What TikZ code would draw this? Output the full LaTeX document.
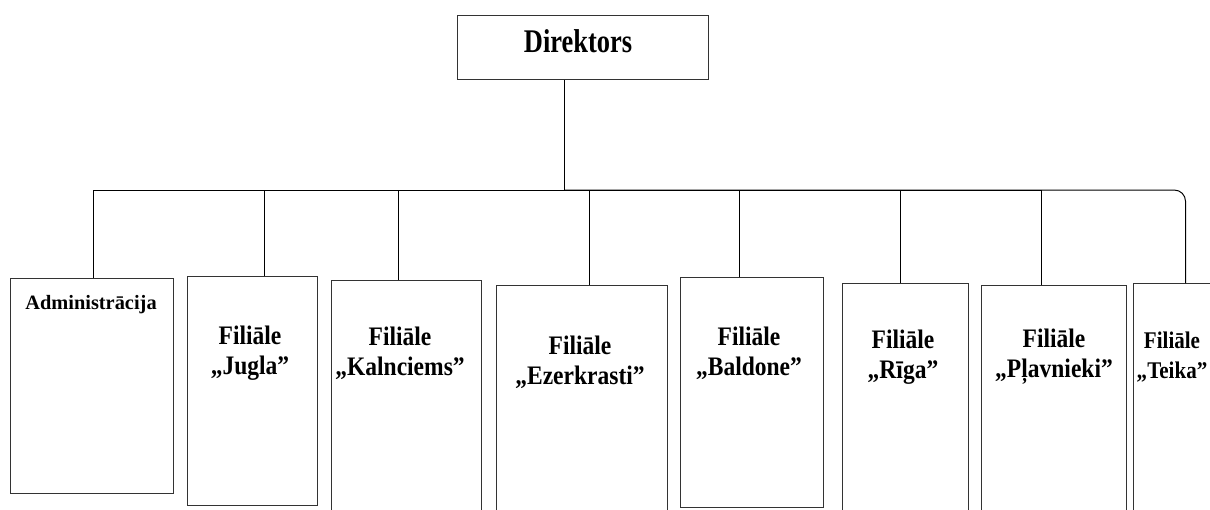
\documentclass[tikz,border=0pt]{standalone}
\usepackage{fontspec}
\setmainfont{Liberation Serif}
\newfontfamily\headfont{Liberation Serif}[FakeStretch=0.8]
\newfontfamily\narrowfont{Liberation Serif}[FakeStretch=0.88]
\usetikzlibrary{calc}
\tikzset{box/.style 2 args={draw=black!80, line width=0.7pt, anchor=north west, inner sep=0pt, minimum width=#1cm, minimum height=#2cm},
  lbl/.style={font=\narrowfont\bfseries\fontsize{19}{21.5}\selectfont, align=center, inner sep=0pt}}

\begin{document}
\begin{tikzpicture}[x=0.025cm, y=-0.025cm]
\useasboundingbox (0,0) rectangle (1210,509);
\clip (0,0) rectangle (1210,509);
% boxes
\node[box={6.275}{1.6}] (dir) at (457,15) {};
\node[box={4.075}{5.375}] (adm) at (10,278) {};
\node[box={3.25}{5.725}] (jugla) at (187,276) {};
\node[box={3.75}{6}] (kalnciems) at (331,280) {};
\node[box={4.275}{5.875}] (ezerkrasti) at (496,285) {};
\node[box={3.575}{5.75}] (baldone) at (680,277) {};
\node[box={3.15}{5.925}] (riga) at (842,283) {};
\node[box={3.625}{5.875}] (plavnieki) at (981,285) {};
\node[box={2.675}{5.925}] (teika) at (1133,283) {};
% texts
\node[inner sep=0pt, font=\headfont\bfseries\fontsize{23.5}{26}\selectfont] (tdir) at (578,41) {Direktors};
\node[inner sep=0pt, font=\bfseries\fontsize{14.5}{16}\selectfont] (tadm) at (91,305) {Administrācija};
\node[lbl] (tjugla) at (250,353) {Filiāle\\„Jugla”};
\node[lbl] (tkalnciems) at (400,353) {Filiāle\\„Kalnciems”};
\node[lbl] (tezerkrasti) at (580,362) {Filiāle\\„Ezerkrasti”};
\node[lbl] (tbaldone) at (749,353) {Filiāle\\„Baldone”};
\node[lbl] (triga) at (903,357) {Filiāle\\„Rīga”};
\node[lbl] (tplavnieki) at (1054,357) {Filiāle\\„Pļavnieki”};
\node[lbl, font=\narrowfont\bfseries\fontsize{17}{21.5}\selectfont] (tteika) at (1172,357) {Filiāle\\„Teika”};
% connectors
\coordinate (bus) at (564,190);
\draw[line width=0.7pt] (dir.south -| bus) -- (bus);
\foreach \n/\dx in {adm/1.5, jugla/12, kalnciems/-8, ezerkrasti/7.5, baldone/-12.5, riga/-5, plavnieki/-12.5}
  \draw[line width=0.7pt] ($(\n.north)+(\dx,0)$) |- (bus);
\draw[line width=0.7pt, rounded corners=8] ($(teika.north)+(-1.5,0)$) |- (bus);
\end{tikzpicture}
\end{document}
